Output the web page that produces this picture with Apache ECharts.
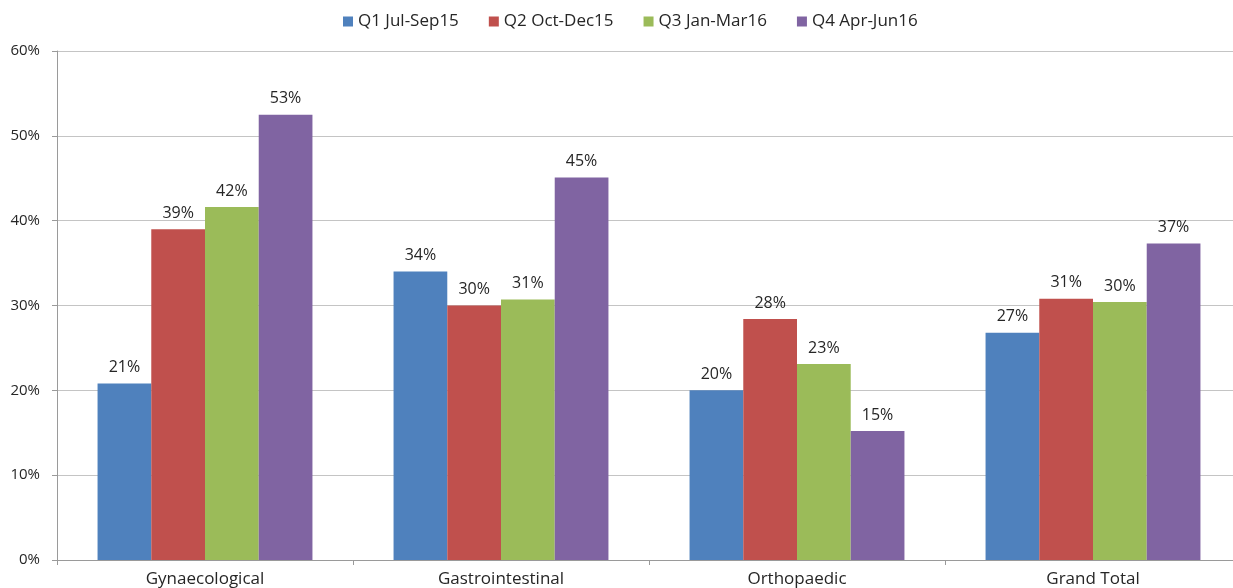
<!DOCTYPE html>
<html>
<head>
<meta charset="utf-8">
<script src="https://cdn.jsdelivr.net/npm/echarts@6/dist/echarts.min.js"></script>
<style>
  html, body { margin: 0; padding: 0; background: #ffffff; overflow: hidden; }
  /* canvas is wider than the page so the plot area can run past the right edge */
  #chart { width: 1260px; height: 588px; }
</style>
</head>
<body>
<div id="chart"></div>
<script>
// Procedure groups along the x axis
const categories = ['Gynaecological', 'Gastrointestinal', 'Orthopaedic', 'Grand Total'];

// Quarter names shown in the legend
const quarters = ['Q1 Jul-Sep15', 'Q2 Oct-Dec15', 'Q3 Jan-Mar16', 'Q4 Apr-Jun16'];

// Percentages per quarter, one value per category
const q1Values = [20.8, 34.0, 20.0, 26.8];
const q2Values = [39.0, 30.0, 28.4, 30.8];
const q3Values = [41.6, 30.7, 23.1, 30.4];
const q4Values = [52.5, 45.1, 15.2, 37.3];

// Y axis ticks (percent)
const yTicks = [0, 10, 20, 30, 40, 50, 60];

const colors = ['#4F81BD', '#C0504D', '#9BBB59', '#8064A2'];
const seriesValues = [q1Values, q2Values, q3Values, q4Values];
const fontFamily = '"Open Sans", Lato, sans-serif';

const chart = echarts.init(document.getElementById('chart'), null, { renderer: 'canvas' });

chart.setOption({
  animation: false,
  color: colors,
  textStyle: { fontFamily: fontFamily },
  legend: {
    top: 8,
    left: 338,
    itemWidth: 10,
    itemHeight: 10,
    itemGap: 30,
    icon: 'rect',
    textStyle: { fontSize: 17, color: '#262626', fontFamily: fontFamily },
    data: quarters
  },
  grid: { left: 57, top: 51, width: 1184, height: 510, containLabel: false },
  xAxis: {
    type: 'category',
    data: categories,
    axisLine: { lineStyle: { color: '#9a9a9a', width: 1 } },
    axisTick: { show: true, length: 5, lineStyle: { color: '#9a9a9a' } },
    axisLabel: { fontSize: 17, color: '#262626', margin: 11, fontFamily: fontFamily }
  },
  yAxis: {
    type: 'value',
    min: yTicks[0],
    max: yTicks[yTicks.length - 1],
    interval: 10,
    axisLine: { show: true, lineStyle: { color: '#9a9a9a', width: 1 } },
    axisTick: { show: true, length: 5, inside: false, lineStyle: { color: '#9a9a9a' } },
    splitLine: { show: true, lineStyle: { color: '#c4c4c4', width: 1 } },
    axisLabel: {
      fontSize: 15,
      color: '#262626',
      margin: 17,
      fontFamily: fontFamily,
      formatter: v => v + '%'
    }
  },
  series: seriesValues.map((vals, i) => ({
    name: quarters[i],
    type: 'bar',
    data: vals,
    barGap: '0%',
    barCategoryGap: '27.4%',
    itemStyle: { color: colors[i] },
    label: {
      show: true,
      position: 'top',
      distance: 8,
      fontSize: 16,
      color: '#262626',
      fontFamily: fontFamily,
      formatter: p => Math.round(p.value) + '%'
    }
  }))
});
</script>
</body>
</html>
